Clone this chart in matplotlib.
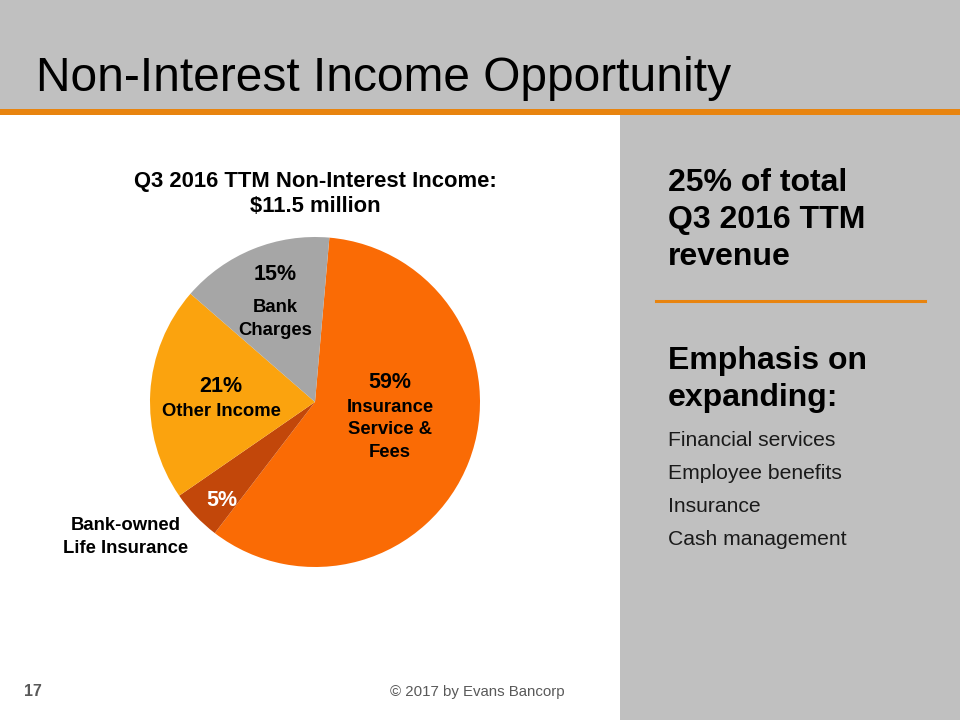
import matplotlib
matplotlib.use("Agg")
import matplotlib.pyplot as plt
from matplotlib.patches import Rectangle

plt.rcParams['font.family'] = ['Liberation Sans', 'DejaVu Sans']

# slide data
TITLE = "Non-Interest Income Opportunity"
PIE_TITLE = "Q3 2016 TTM Non-Interest Income:\n$11.5 million"
categories = ["Insurance\nService &\nFees", "Bank-owned\nLife Insurance", "Other Income", "Bank\nCharges"]
shares = [59, 5, 21, 15]
colors = ["#FA6B05", "#C2470A", "#FBA30E", "#A6A6A6"]
side_head = "25% of total\nQ3 2016 TTM\nrevenue"
side_head2 = "Emphasis on\nexpanding:"
side_items = ["Financial services", "Employee benefits", "Insurance", "Cash management"]

W, H = 960, 720
ORANGE = "#E8840F"
GRAY = "#C0C0C0"

def fx(px):
    return px / W

def fy(py):
    return 1 - py / H

fig = plt.figure(figsize=(9.6, 7.2), dpi=100)
fig.patch.set_facecolor("white")

# header band + orange rule, right panel
fig.patches.append(Rectangle((0, fy(109)), 1, 109 / H, transform=fig.transFigure,
                             facecolor=GRAY, edgecolor="none", zorder=0))
fig.patches.append(Rectangle((0, fy(115)), 1, 6 / H, transform=fig.transFigure,
                             facecolor=ORANGE, edgecolor="none", zorder=0))
fig.patches.append(Rectangle((fx(620), 0), 1 - fx(620), fy(115), transform=fig.transFigure,
                             facecolor=GRAY, edgecolor="none", zorder=0))

fig.text(fx(36), fy(91), TITLE, fontsize=34.5, color="black", va="baseline", ha="left")

# pie
cx, cy, r = 315, 402, 165
ax = fig.add_axes([fx(cx - r), fy(cy + r), 2 * r / W, 2 * r / H])
ax.pie(shares, colors=colors, startangle=85, counterclock=False, radius=1,
       wedgeprops=dict(linewidth=0))
ax.set_xlim(-1, 1)
ax.set_ylim(-1, 1)
ax.set_aspect("auto")
ax.axis("off")

def lab(px, py, s, **kw):
    ax.text((px - cx) / r, (cy - py) / r, s, ha="center", va="center",
            fontweight="bold", clip_on=False, **kw)

lab(390, 383, f"{shares[0]}%", fontsize=15.5)
lab(390, 430, categories[0], fontsize=13.3, linespacing=1.4)
lab(222, 500, f"{shares[1]}%", fontsize=15.5, color="white")
lab(126, 537, categories[1], fontsize=13.3, linespacing=1.4)
lab(221, 386, f"{shares[2]}%", fontsize=15.5)
lab(221, 411, categories[2], fontsize=13.3)
lab(275, 275, f"{shares[3]}%", fontsize=15.5)
lab(275, 319, categories[3], fontsize=13.3, linespacing=1.4)

fig.text(fx(315), fy(194), PIE_TITLE, ha="center", va="center", fontsize=15.8,
         fontweight="bold", linespacing=1.3)

# right panel text
fig.text(fx(668), fy(168), side_head, ha="left", va="top", fontsize=23,
         fontweight="bold", linespacing=1.3)
fig.add_artist(plt.Line2D([fx(656), fx(925)], [fy(301), fy(301)],
                          transform=fig.transFigure, color=ORANGE, linewidth=2.2))
fig.text(fx(668), fy(346), side_head2, ha="left", va="top", fontsize=23,
         fontweight="bold", linespacing=1.3)
for i, item in enumerate(side_items):
    fig.text(fx(668), fy(440 + i * 33.3), item, ha="left", va="center",
             fontsize=15.2, color="#1a1a1a")

# footer
fig.text(fx(24), fy(691), "17", ha="left", va="center", fontsize=11.5,
         fontweight="bold", color="#595959")
fig.text(fx(390), fy(692), "\u00a9 2017 by Evans Bancorp", ha="left", va="center",
         fontsize=10.8, color="#595959")

fig.savefig("out.png", dpi=100)
